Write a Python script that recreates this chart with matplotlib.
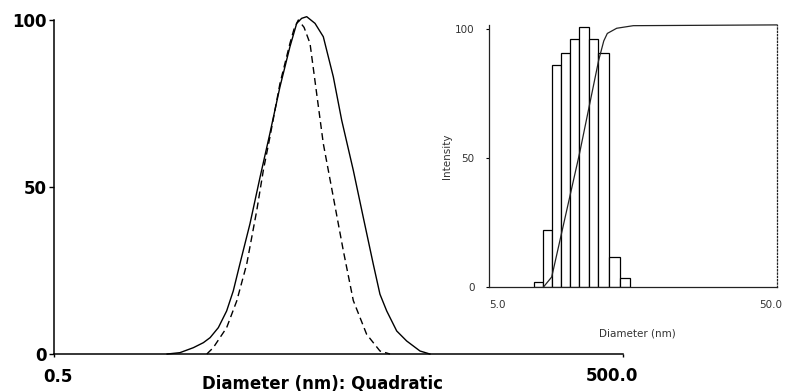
import numpy as np
import matplotlib
matplotlib.use('Agg')
import matplotlib.pyplot as plt
from matplotlib.ticker import NullLocator
from matplotlib.transforms import blended_transform_factory, offset_copy

# main plot: size distribution (intensity %) vs diameter (nm)
d_solid = [1.97, 2.30, 2.71, 3.06, 3.32, 3.67, 4.06, 4.40, 4.77, 5.39, 6.09,
           6.87, 7.76, 8.76, 9.51, 10.1, 10.74, 11.88, 13.14, 14.84, 16.43,
           18.92, 21.36, 24.12, 26.16, 28.39, 32.06, 36.19, 42.55, 48.0]
i_solid = [0, 0.4, 1.9, 3.4, 4.9, 7.9, 12.9, 18.9, 27.0, 39.0, 52.9,
           66.1, 80.0, 92.0, 99.0, 100.5, 101.0, 99.0, 95.0, 83.0, 70.0,
           55.0, 40.9, 26.9, 17.9, 12.9, 6.9, 3.9, 0.9, 0]

d_dash = [3.19, 3.45, 4.06, 4.59, 5.18, 5.85, 6.34, 6.87, 7.76, 8.76, 9.23,
          9.70, 10.4, 11.18, 12.12, 13.14, 14.84, 16.75, 18.92, 22.25, 26.16,
          29.55]
i_dash = [0, 1.9, 7.9, 15.9, 26.9, 42.9, 55.0, 65.0, 81.0, 93.0, 97.5,
          100.0, 97.8, 93.0, 78.0, 63.0, 47.0, 31.0, 16.0, 5.9, 0.9,
          0]

# inset: histogram + cumulative
bin_edges = [7.15, 7.70, 8.24, 8.85, 9.54, 10.27, 11.08, 11.96, 13.03, 14.24, 15.42]
bar_heights = [2.2, 22.2, 86.2, 90.9, 96.2, 101.0, 96.2, 90.9, 11.6, 3.7]

cum_d = [7.70, 8.24, 10.30, 12.0, 12.5, 12.86, 13.86, 15.83, 50.0]
cum_v = [0, 4.0, 52.0, 88.0, 95.5, 98.4, 100.4, 101.4, 101.7]

main_xticks = [0.5, 500]
main_xlabels = ['0.5', '500.0']
main_yticks = [0, 50, 100]
inset_xticks = [5, 50]
inset_xlabels = ['5.0', '50.0']

plt.rcParams['font.family'] = 'DejaVu Sans'

fig = plt.figure(figsize=(7.85, 3.91), dpi=100, facecolor='w')
#
# main axes
ax = fig.add_axes([0.0692, 0.0946, 0.7241, 0.8542])
ax.plot(d_solid, i_solid, color='k', lw=1.0, clip_on=False)
ax.plot(d_dash, i_dash, color='k', lw=1.0, dashes=(5, 3), clip_on=False)
ax.set_xscale('log')
ax.set_xlim(0.5, 500)
ax.set_ylim(0, 100)
for s in ['top', 'right']:
    ax.spines[s].set_visible(False)
for s in ['left', 'bottom']:
    ax.spines[s].set_linewidth(1.1)
ax.set_yticks(main_yticks)
ax.set_yticklabels([str(v) for v in main_yticks], fontsize=12, fontweight='bold')
ax.tick_params(axis='y', length=3.5, width=1, pad=2)
ax.set_xticks(main_xticks)
ax.set_xticklabels(['', ''])
ax.xaxis.set_minor_locator(NullLocator())
ax.tick_params(axis='x', length=2.5, width=1)
xtr = blended_transform_factory(ax.transData, ax.transAxes)
ax.text(main_xticks[0], 0, main_xlabels[0], fontsize=12, fontweight='bold',
        ha='center', va='center',
        transform=offset_copy(xtr, fig=fig, x=4, y=-23, units='dots'))
ax.text(main_xticks[1], 0, main_xlabels[1], fontsize=12, fontweight='bold',
        ha='center', va='center',
        transform=offset_copy(xtr, fig=fig, x=-11, y=-22, units='dots'))
fig.text(322.5/785, 1 - 383.5/391, 'Diameter (nm): Quadratic', fontsize=12,
         fontweight='bold', ha='center', va='center')
#
# inset
axi = fig.add_axes([0.6233, 0.2652, 0.3665, 0.6711])
axi.patch.set_alpha(0)
axi.bar(bin_edges[:-1], bar_heights, width=np.diff(bin_edges), align='edge',
        facecolor='white', edgecolor='k', lw=0.9)
axi.plot(cum_d, cum_v, color='#222222', lw=0.9, clip_on=False)
axi.set_xscale('log')
axi.set_xlim(5, 50)
axi.set_ylim(0, 101.7)
axi.spines['top'].set_visible(False)
axi.spines['right'].set_linestyle(':')
for s in ['left', 'bottom', 'right']:
    axi.spines[s].set_linewidth(0.9)
    axi.spines[s].set_color('#222222')
axi.set_yticks(main_yticks)
axi.set_yticklabels([str(v) for v in main_yticks], fontsize=7.5, color='#333333')
axi.tick_params(axis='y', length=2, width=0.8, pad=8.6)
axi.set_xticks([])
axi.xaxis.set_minor_locator(NullLocator())
xtri = blended_transform_factory(axi.transData, axi.transAxes)
axi.text(inset_xticks[0], 0, inset_xlabels[0], fontsize=7.5, color='#333333',
         ha='center', va='center',
         transform=offset_copy(xtri, fig=fig, x=8, y=-18, units='dots'))
axi.text(inset_xticks[1], 0, inset_xlabels[1], fontsize=7.5, color='#333333',
         ha='center', va='center',
         transform=offset_copy(xtri, fig=fig, x=-6, y=-18, units='dots'))
axi.text(0.513, -0.177, 'Diameter (nm)', transform=axi.transAxes, fontsize=7.5,
         color='#333333', ha='center', va='center')
axi.text(-0.147, 0.501, 'Intensity', transform=axi.transAxes, fontsize=7.5,
         color='#333333', ha='center', va='center', rotation=90)

plt.savefig('out.png', dpi=100)
